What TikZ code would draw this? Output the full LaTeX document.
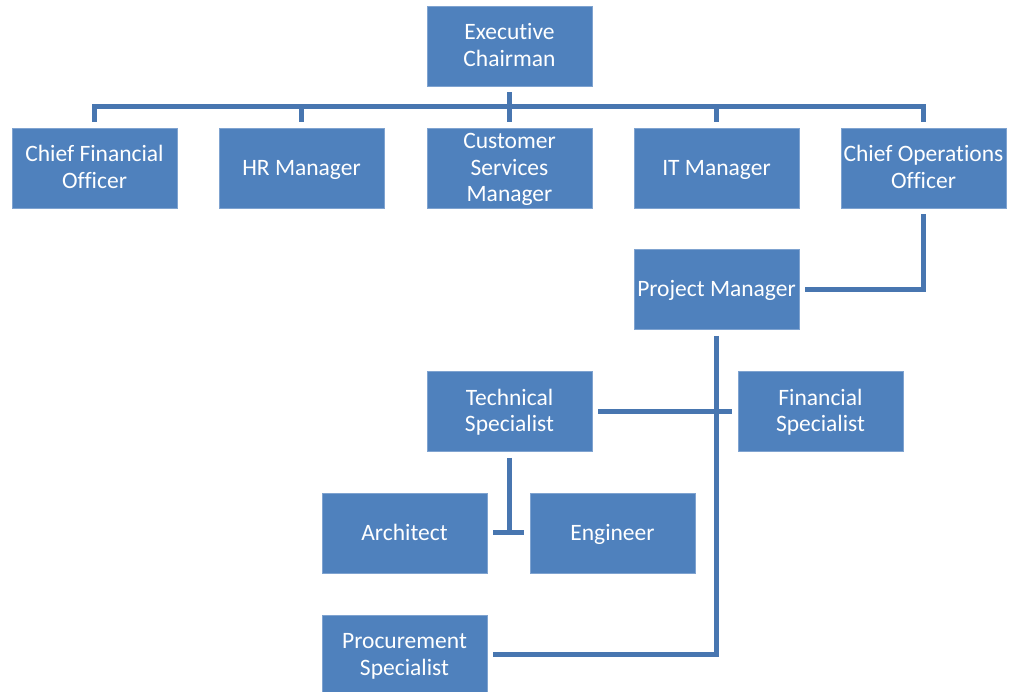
\documentclass[tikz,border=0pt]{standalone}
\usepackage{fontspec}
\setmainfont{Carlito}[Ligatures=NoCommon]
\newcommand{\rowstrut}{\rule[-6pt]{0pt}{26.5pt}}
\begin{document}
\definecolor{boxblue}{HTML}{4F81BD}
\definecolor{boxedge}{HTML}{7FA3D0}
\definecolor{linkblue}{HTML}{4876B0}
\begin{tikzpicture}[x=1pt,y=1pt,
  unit/.style={rectangle, fill=boxblue, draw=boxedge, line width=0.8pt,
    minimum width=165pt, minimum height=80pt, inner sep=0pt,
    align=center, text=white, font=\fontsize{23.5}{26.5}\selectfont},
  conn/.style={draw=linkblue, line width=5pt, line join=miter}]
\useasboundingbox (0,0) rectangle (1010,692);
\fill[white] (0,0) rectangle (1010,692);

% top level
\node[unit] (ec) at (509.5,646) {\rowstrut Executive\\\rowstrut Chairman};

% direct reports
\node[unit] (cfo) at (94.5,524)  {\rowstrut Chief Financial\\\rowstrut Officer};
\node[unit] (hr)  at (301.5,524) {\rowstrut HR Manager};
\node[unit] (csm) at (509.5,524) {\rowstrut Customer\\\rowstrut Services\\\rowstrut Manager};
\node[unit] (it)  at (716.5,524) {\rowstrut IT Manager};
\node[unit] (coo) at (923.5,524) {\rowstrut Chief Operations\\\rowstrut Officer};

% operations branch
\node[unit] (pm) at (716.5,402.5) {\rowstrut Project Manager};
\node[unit] (ts) at (509.5,280.5) {\rowstrut Technical\\\rowstrut Specialist};
\node[unit] (fs) at (820.5,280.5) {\rowstrut Financial\\\rowstrut Specialist};
\node[unit] (ar) at (404.5,159) {\rowstrut Architect};
\node[unit] (en) at (612.5,159) {\rowstrut Engineer};
\node[unit] (ps) at (404.5,37) {\rowstrut Procurement\\\rowstrut Specialist};

% connectors: chairman to bus
\draw[conn] ([yshift=-6pt]ec.south) -- ([yshift=6pt]csm.north);
\draw[conn] ([yshift=6pt]cfo.north) -- ++(0,15) -| ([yshift=6pt]coo.north);
\draw[conn] ([yshift=6pt]hr.north) -- ++(0,15);
\draw[conn] ([yshift=6pt]it.north) -- ++(0,15);

% operations
\draw[conn] ([yshift=-6pt]coo.south) |- ([xshift=6pt]pm.east);
\draw[conn] ([yshift=-6pt]pm.south) |- ([xshift=6pt]ps.east);
\draw[conn] ([xshift=6pt]ts.east) -- ([xshift=-6pt]fs.west);
\draw[conn] ([yshift=-6pt]ts.south) -- (ts.south |- ar.east);
\draw[conn] ([xshift=6pt]ar.east) -- ([xshift=-6pt]en.west);
\end{tikzpicture}
\end{document}
